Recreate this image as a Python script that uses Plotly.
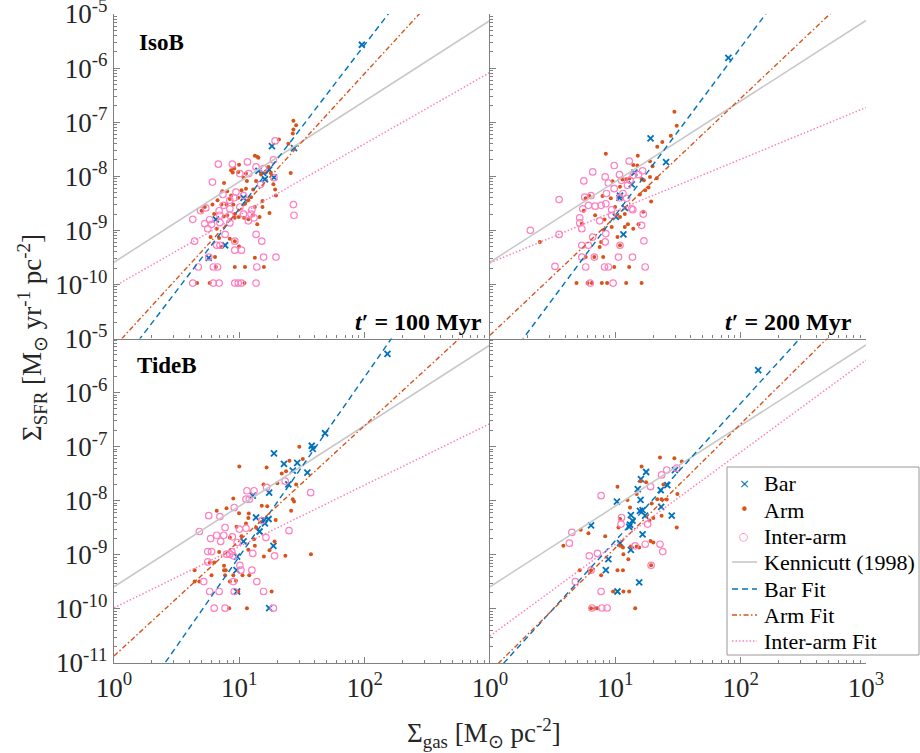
import math
import plotly.graph_objects as go
from plotly.subplots import make_subplots

# ---------------- data ----------------
# Top-left: IsoB, t' = 100 Myr
tl_bar_gas = [95, 18.2, 27.3, 14.2, 15.5, 17.3, 16.0, 18.9, 10.8, 6.5, 7.7, 5.7]
tl_bar_sfr = [2.7e-6, 3.6e-8, 3.3e-8, 1.26e-8, 1.15e-8, 1.33e-8, 8.8e-9, 9.5e-9, 4.0e-9, 1.6e-9, 5.3e-10, 3.1e-10]

tl_arm_gas = [27.0, 28.4, 27.0, 26.7, 24.6, 20.7, 13.9, 13.3, 14.2, 9.95, 9.1, 8.6, 8.85, 9.8, 11.3, 10.8, 11.5, 13.6,
              14.9, 17.1, 17.8, 16.3, 18.7, 19.3, 19.6, 25.7, 7.55, 8.0, 7.3, 8.6, 9.8, 10.4, 11.3, 12.9, 12.4, 11.8,
              11.1, 13.3, 15.3, 17.4, 15.3, 8.95, 8.4, 7.9, 7.2, 6.7, 6.1, 5.0, 6.3, 7.5, 8.0, 9.2, 9.9, 10.9, 11.8,
              12.8, 14.5, 13.9, 9.2, 6.6, 5.9, 6.9, 8.4, 9.2, 9.95, 6.4, 13.3, 15.7, 9.2, 11.1, 6.5, 4.6, 5.8, 11.0,
              7.2, 5.3]
tl_arm_sfr = [1.06e-7, 8.8e-8, 7.3e-8, 6.2e-8, 4.0e-8, 4.8e-8, 2.3e-8, 2.4e-8, 2.2e-8, 1.64e-8, 1.39e-8, 1.29e-8,
              1.17e-8, 1.2e-8, 1.12e-8, 9.4e-9, 8.2e-9, 8.2e-9, 1.09e-8, 1.49e-8, 1.15e-8, 1.2e-8, 7.1e-9, 5.7e-9,
              4.4e-9, 1.15e-8, 7.5e-9, 5.3e-9, 5.3e-9, 4.4e-9, 4.0e-9, 5.5e-9, 5.9e-9, 5.7e-9, 4.1e-9, 3.6e-9,
              3.1e-9, 2.7e-9, 3.5e-9, 2.1e-9, 2.7e-9, 3.0e-9, 3.8e-9, 3.0e-9, 3.0e-9, 3.6e-9, 3.0e-9, 2.3e-9,
              2.0e-9, 1.8e-9, 1.9e-9, 2.0e-9, 1.77e-9, 1.7e-9, 1.6e-9, 1.9e-9, 1.77e-9, 1.3e-9, 1.7e-9, 1.07e-9,
              7.5e-10, 7.2e-10, 7.0e-10, 6.3e-10, 5.0e-10, 3.2e-10, 3.1e-10, 2.1e-10, 2.1e-10, 2.1e-10, 2.1e-10,
              1.06e-10, 1.06e-10, 1.06e-10, 4.9e-10, 2.7e-9]

tl_int_gas = [19.3, 18.7, 6.8, 8.8, 11.6, 13.6, 15.6, 10.1, 11.9, 6.1, 18.9, 14.8, 7.4, 9.4, 9.1, 10.8, 8.4, 7.5,
              5.4, 4.9, 6.9, 8.4, 10.1, 12.6, 7.0, 8.4, 10.8, 12.4, 11.8, 13.1, 5.8, 5.3, 6.0, 7.0, 5.6, 7.7, 8.4,
              4.25, 27.0, 27.3, 13.6, 15.1, 4.4, 6.6, 7.0, 9.2, 10.4, 9.2, 15.6, 19.6, 5.7, 4.7, 6.2, 6.7, 13.8,
              4.25, 6.2, 6.9, 9.2, 9.8, 10.4, 13.6]
tl_int_sfr = [4.5e-8, 2.0e-8, 1.67e-8, 1.67e-8, 1.84e-8, 1.49e-8, 1.39e-8, 1.12e-8, 1.12e-8, 7.8e-9, 9.4e-9,
              7.1e-9, 4.6e-9, 5.1e-9, 4.0e-9, 4.4e-9, 3.6e-9, 2.9e-9, 2.6e-9, 2.3e-9, 2.3e-9, 2.5e-9, 2.7e-9,
              2.4e-9, 1.9e-9, 1.9e-9, 2.0e-9, 2.0e-9, 1.5e-9, 1.7e-9, 1.57e-9, 1.33e-9, 1.29e-9, 1.39e-9, 1.07e-9,
              8.4e-10, 1.37e-9, 1.6e-9, 3.0e-9, 1.9e-9, 8.4e-10, 6.3e-10, 6.3e-10, 5.3e-10, 5.3e-10, 6.3e-10,
              4.3e-10, 4.3e-10, 3.2e-10, 3.2e-10, 3.2e-10, 2.1e-10, 2.1e-10, 2.1e-10, 2.1e-10, 1.06e-10, 1.06e-10,
              1.06e-10, 1.06e-10, 1.06e-10, 1.06e-10, 1.06e-10]

# Top-right: IsoB, t' = 200 Myr
tr_bar_gas = [79.8, 19.1, 25.4, 14.2, 13.5, 10.9, 10.8, 11.9, 10.1, 11.6]
tr_bar_sfr = [1.55e-6, 5.0e-8, 1.82e-8, 1.17e-8, 7.1e-9, 4.4e-9, 4.0e-9, 2.6e-9, 1.77e-9, 8.4e-10]

tr_arm_gas = [29.6, 30.9, 27.7, 23.7, 21.6, 8.4, 15.1, 13.9, 15.0, 18.9, 19.8, 21.4, 18.9, 16.9, 16.2, 12.9, 12.2,
              11.4, 9.5, 10.9, 18.4, 17.3, 15.7, 9.2, 7.9, 6.2, 5.8, 5.6, 6.9, 5.4, 8.2, 10.9, 9.95, 11.9, 12.6,
              15.3, 16.7, 19.3, 13.9, 11.9, 10.4, 8.1, 7.7, 10.9, 9.35, 7.5, 5.8, 6.8, 8.0, 9.8, 12.9, 4.9, 6.0,
              6.5, 7.8, 8.6, 12.2, 16.2, 2.5]
tr_arm_sfr = [1.56e-7, 8.6e-8, 5.6e-8, 4.3e-8, 3.5e-8, 2.6e-8, 2.4e-8, 1.62e-8, 1.58e-8, 1.9e-8, 1.53e-8, 9.2e-9,
              9.7e-9, 8.4e-9, 8.9e-9, 9.1e-9, 8.8e-9, 8.7e-9, 8.1e-9, 6.4e-9, 6.2e-9, 5.5e-9, 4.6e-9, 3.9e-9,
              4.3e-9, 4.3e-9, 3.9e-9, 2.3e-9, 1.9e-9, 1.33e-9, 1.58e-9, 1.77e-9, 2.7e-9, 2.0e-9, 1.29e-9, 1.29e-9,
              2.2e-9, 3.4e-9, 1.07e-9, 1.15e-9, 7.5e-10, 1.03e-9, 6.1e-10, 5.3e-10, 1.15e-9, 4.9e-10, 3.2e-10,
              3.2e-10, 3.2e-10, 2.1e-10, 2.1e-10, 1.06e-10, 1.06e-10, 1.06e-10, 1.06e-10, 1.06e-10, 1.06e-10,
              1.06e-10, 6.1e-10]

tr_int_gas = [3.56, 6.6, 9.8, 5.6, 12.9, 8.3, 10.8, 8.8, 11.2, 13.9, 15.3, 16.5, 13.1, 12.5, 9.8, 8.5, 6.4, 5.7,
              5.5, 6.1, 6.9, 7.7, 8.4, 9.35, 10.9, 12.3, 11.5, 13.5, 5.2, 5.2, 5.4, 7.5, 9.35, 13.8, 16.7, 16.2,
              3.56, 6.6, 8.4, 5.4, 6.1, 8.3, 10.9, 16.9, 10.6, 6.8, 5.4, 13.7, 3.3, 5.8, 8.2, 8.8, 17.3, 6.3, 9.6,
              2.1]
tr_int_sfr = [3.7e-9, 1.2e-8, 1.58e-8, 8.2e-9, 1.9e-8, 9.7e-9, 1.07e-8, 7.5e-9, 8.4e-9, 1.04e-8, 1.07e-8,
              1.26e-8, 8.4e-9, 6.8e-9, 5.9e-9, 4.8e-9, 4.4e-9, 4.1e-9, 2.5e-9, 2.9e-9, 2.8e-9, 2.9e-9, 3.1e-9,
              2.4e-9, 4.0e-9, 3.9e-9, 4.8e-9, 2.5e-9, 1.7e-9, 1.37e-9, 1.07e-9, 1.5e-9, 1.9e-9, 2.4e-9, 2.0e-9,
              1.24e-9, 8.4e-10, 7.5e-10, 8.7e-10, 5.3e-10, 5.3e-10, 6.1e-10, 5.3e-10, 6.4e-10, 3.2e-10, 3.2e-10,
              3.2e-10, 3.2e-10, 2.15e-10, 2.1e-10, 2.1e-10, 2.1e-10, 2.1e-10, 1.06e-10, 1.06e-10, 1.0e-9]

# Bottom-left: TideB, t' = 100 Myr
bl_bar_gas = [152, 18.9, 37.8, 38.5, 48.3, 22.7, 29.0, 26.7, 34.9, 24.6, 12.8, 17.3, 13.6, 15.7, 17.1, 16.0, 14.5,
              10.8, 18.7, 9.6, 9.5, 9.6, 17.3]
bl_bar_sfr = [5.2e-6, 7.5e-8, 1.04e-7, 9.1e-8, 1.77e-7, 4.8e-8, 5.0e-8, 3.6e-8, 3.3e-8, 2.0e-8, 1.24e-8, 1.41e-8,
              4.9e-9, 4.4e-9, 4.6e-9, 3.8e-9, 2.7e-9, 1.77e-9, 1.47e-9, 9.3e-10, 5.2e-10, 2.1e-10, 1.03e-10]

bl_arm_gas = [30.1, 32.1, 25.1, 21.8, 23.6, 16.5, 10.0, 20.1, 15.6, 28.4, 26.7, 27.3, 8.95, 7.9, 6.6, 9.95, 11.9,
              11.8, 16.7, 15.1, 19.5, 13.6, 9.5, 11.3, 25.9, 37.3, 23.3, 15.7, 19.1, 17.4, 13.3, 11.8, 13.1, 10.4,
              8.4, 6.9, 5.8, 6.3, 7.55, 7.55, 7.8, 7.7, 8.95, 10.6, 12.0, 9.4, 8.4, 6.0, 4.4, 4.4, 4.8, 9.8, 18.1,
              8.3, 11.5]
bl_arm_sfr = [1.0e-7, 5.9e-8, 5.5e-8, 3.2e-8, 3.5e-8, 4.1e-8, 4.3e-8, 2.1e-8, 2.0e-8, 2.0e-8, 1.07e-8, 9.7e-9,
              1.1e-8, 7.3e-9, 6.5e-9, 5.9e-9, 5.8e-9, 4.8e-9, 7.9e-9, 8.1e-9, 4.4e-9, 3.2e-9, 3.3e-9, 3.8e-9,
              6.5e-9, 1.03e-9, 9.6e-10, 9.3e-10, 1.77e-9, 1.22e-9, 1.47e-9, 1.24e-9, 1.95e-9, 2.2e-9, 2.1e-9,
              1.13e-9, 7.2e-10, 7.2e-10, 6.3e-10, 5.2e-10, 5.2e-10, 4.2e-10, 4.2e-10, 4.2e-10, 4.2e-10, 3.3e-10,
              3.2e-10, 4.2e-10, 5.2e-10, 3.2e-10, 3.2e-10, 2.1e-10, 2.1e-10, 1.03e-10, 1.03e-10]

bl_int_gas = [11.5, 13.1, 11.3, 12.0, 16.5, 23.2, 37.1, 9.1, 5.7, 7.0, 7.7, 4.8, 10.0, 11.3, 5.9, 6.6, 7.5, 8.8,
              7.1, 9.6, 16.3, 24.9, 5.6, 6.0, 7.9, 8.4, 8.7, 8.95, 12.8, 19.1, 5.6, 10.1, 10.3, 12.6, 5.2, 8.95,
              13.8, 5.8, 6.9, 9.1, 15.6, 6.3, 7.7, 18.7, 15.1]
bl_int_sfr = [1.53e-8, 1.53e-8, 1.07e-8, 1.07e-8, 1.77e-8, 2.3e-8, 1.41e-8, 7.5e-9, 5.3e-9, 5.1e-9, 3.2e-9,
              2.7e-9, 3.0e-9, 3.1e-9, 2.0e-9, 2.3e-9, 2.3e-9, 2.15e-9, 1.77e-9, 1.69e-9, 2.1e-9, 2.8e-9, 1.15e-9,
              1.15e-9, 1.03e-9, 1.03e-9, 1.15e-9, 9.6e-10, 1.06e-9, 9.6e-10, 7.4e-10, 6.4e-10, 5.2e-10, 5.2e-10,
              3.2e-10, 3.2e-10, 3.2e-10, 2.1e-10, 2.1e-10, 2.1e-10, 2.1e-10, 1.03e-10, 1.03e-10, 1.03e-10, 4.3e-9]

# Bottom-right: TideB, t' = 200 Myr
br_bar_gas = [138, 17.6, 16.0, 15.1, 15.9, 10.3, 6.4, 23.0, 26.0, 29.9, 23.2, 28.2, 16.5, 15.7, 17.3, 13.3, 13.1,
              12.9, 13.7, 16.5, 10.9, 13.3, 8.8, 8.4, 15.5, 10.4]
br_bar_sfr = [2.6e-6, 3.4e-8, 2.5e-8, 1.64e-8, 1.04e-8, 9.6e-9, 3.5e-9, 1.57e-8, 1.95e-8, 3.7e-8, 7.7e-9, 5.3e-9,
              6.7e-9, 6.5e-9, 5.3e-9, 5.4e-9, 3.6e-9, 3.3e-9, 4.3e-9, 2.4e-9, 1.64e-9, 1.24e-9, 8.3e-10, 5.2e-10,
              3.1e-10, 2.1e-10]

br_arm_gas = [22.7, 29.6, 33.9, 16.2, 15.9, 17.6, 24.2, 10.4, 12.5, 13.1, 14.8, 19.5, 21.6, 23.4, 25.7, 23.4, 31.3,
              20.1, 30.9, 19.1, 20.1, 18.7, 10.9, 10.6, 5.3, 6.1, 8.3, 3.85, 10.9, 11.5, 13.3, 14.8, 15.5, 11.6,
              12.7, 5.2, 6.4, 7.7, 10.4, 11.5, 19.3, 9.6, 11.6, 12.9, 6.4, 6.9, 7.2, 14.4]
br_arm_sfr = [6.3e-8, 6.1e-8, 5.3e-8, 4.3e-8, 2.3e-8, 2.2e-8, 2.0e-8, 1.82e-8, 1.03e-8, 7.5e-9, 1.33e-8, 8.9e-9,
              1.07e-8, 1.07e-8, 1.06e-8, 5.3e-9, 1.33e-8, 4.8e-9, 3.2e-9, 1.8e-9, 1.69e-9, 4.3e-9, 4.6e-9, 3.2e-9,
              2.9e-9, 2.5e-9, 2.2e-9, 1.47e-9, 1.47e-9, 1.37e-9, 1.43e-9, 1.43e-9, 1.37e-9, 1.03e-9, 8.3e-10,
              5.2e-10, 5.2e-10, 4.2e-10, 5.2e-10, 5.2e-10, 6.4e-10, 2.1e-10, 2.1e-10, 2.1e-10, 1.03e-10, 1.03e-10,
              1.03e-10, 1.03e-10]

br_int_gas = [25.7, 30.9, 23.4, 19.1, 7.7, 11.2, 11.1, 18.1, 4.5, 4.3, 14.4, 17.3, 22.7, 23.9, 7.2, 6.2, 6.4, 4.8,
              19.3, 7.7, 6.5, 7.8, 8.6]
br_int_sfr = [3.7e-8, 4.0e-8, 3.0e-8, 1.82e-8, 1.24e-8, 4.9e-9, 3.7e-9, 3.7e-9, 2.6e-9, 1.64e-9, 1.47e-9, 1.57e-9,
              1.57e-9, 1.15e-9, 1.06e-9, 9.6e-10, 5.2e-10, 3.2e-10, 6.4e-10, 2.1e-10, 1.04e-10, 1.04e-10, 1.04e-10]

# Power-law lines: log10(Sigma_SFR at Sigma_gas = 1) and slope  [TL, TR, BL, BR]
kenn_logA = [-9.59, -9.59, -9.59, -9.59]
kenn_slope = [1.49, 1.49, 1.49, 1.49]
barfit_logA = [-11.63, -11.82, -12.35, -11.28]
barfit_slope = [3.03, 3.10, 3.32, 2.54]
armfit_logA = [-11.16, -10.94, -10.87, -11.16]
armfit_slope = [2.53, 2.19, 2.13, 2.29]
intfit_logA = [-10.04, -9.60, -9.98, -10.50]
intfit_slope = [1.32, 0.957, 1.135, 1.70]

line_gas = [1, 1000]

time_labels = ["100", "200"]
legend_labels = ["Bar", "Arm", "Inter-arm", "Kennicutt (1998)", "Bar Fit", "Arm Fit", "Inter-arm Fit"]

x_ticks_bl = [1, 10, 100]
x_ticks_br = [1, 10, 100, 1000]
y_ticks_top = [1e-10, 1e-9, 1e-8, 1e-7, 1e-6, 1e-5]
y_ticks_bot = [1e-11, 1e-10, 1e-9, 1e-8, 1e-7, 1e-6, 1e-5]

# ---------------- figure ----------------
FONT = "Liberation Serif"
C_BAR = "#0072BD"
C_ARM = "#D95319"
C_INT = "#FF80C0"
C_KEN = "#C8C8C8"
AXC = "#808080"
DASH_BAR = "6px,4px"
DASH_ARM = "5px,2.5px,1.5px,2.5px"
DASH_INT = "1.5px,2px"

fig = make_subplots(rows=2, cols=2, horizontal_spacing=0, vertical_spacing=0)

panels = [
    (1, 1, tl_bar_gas, tl_bar_sfr, tl_arm_gas, tl_arm_sfr, tl_int_gas, tl_int_sfr),
    (1, 2, tr_bar_gas, tr_bar_sfr, tr_arm_gas, tr_arm_sfr, tr_int_gas, tr_int_sfr),
    (2, 1, bl_bar_gas, bl_bar_sfr, bl_arm_gas, bl_arm_sfr, bl_int_gas, bl_int_sfr),
    (2, 2, br_bar_gas, br_bar_sfr, br_arm_gas, br_arm_sfr, br_int_gas, br_int_sfr),
]


def pl(logA, n):
    return [10 ** (logA + n * math.log10(g)) for g in line_gas]


for i, (r, c, bg, bs, ag, as_, ig, is_) in enumerate(panels):
    fig.add_trace(go.Scatter(x=bg, y=bs, mode="markers", name="Bar", showlegend=False,
                             marker=dict(symbol="x-thin-open", size=6, color=C_BAR,
                                         line=dict(color=C_BAR, width=1.8))), row=r, col=c)
    fig.add_trace(go.Scatter(x=ag, y=as_, mode="markers", name="Arm", showlegend=False,
                             marker=dict(symbol="circle", size=4, color=C_ARM, line=dict(width=0))), row=r, col=c)
    fig.add_trace(go.Scatter(x=ig, y=is_, mode="markers", name="Inter-arm", showlegend=False,
                             marker=dict(symbol="circle-open", size=6.5, color=C_INT,
                                         line=dict(color=C_INT, width=1.2))), row=r, col=c)
    fig.add_trace(go.Scatter(x=line_gas, y=pl(kenn_logA[i], kenn_slope[i]), mode="lines",
                             name="Kennicutt (1998)", showlegend=False,
                             line=dict(color=C_KEN, width=1.6)), row=r, col=c)
    fig.add_trace(go.Scatter(x=line_gas, y=pl(barfit_logA[i], barfit_slope[i]), mode="lines", name="Bar Fit",
                             showlegend=False,
                             line=dict(color=C_BAR, width=1.4, dash=DASH_BAR)), row=r, col=c)
    fig.add_trace(go.Scatter(x=line_gas, y=pl(armfit_logA[i], armfit_slope[i]), mode="lines", name="Arm Fit",
                             showlegend=False,
                             line=dict(color=C_ARM, width=1.4, dash=DASH_ARM)), row=r, col=c)
    fig.add_trace(go.Scatter(x=line_gas, y=pl(intfit_logA[i], intfit_slope[i]), mode="lines",
                             name="Inter-arm Fit", showlegend=False,
                             line=dict(color=C_INT, width=1.5, dash=DASH_INT)), row=r, col=c)

minor_x = [k * 10 ** d for d in range(0, 3) for k in range(2, 10)]
minor_y = [k * 10.0 ** d for d in range(-11, -5) for k in range(2, 10)]


def sup_label(v):
    e = int(round(math.log10(v)))
    return "10<sup>%d</sup>" % e


for r in (1, 2):
    for c in (1, 2):
        xt = []
        if r == 2:
            xt = x_ticks_bl if c == 1 else x_ticks_br
        yt = []
        if c == 1:
            yt = y_ticks_top if r == 1 else y_ticks_bot
        fig.update_xaxes(type="log", range=[0, 3], tickmode="array", tickvals=xt if xt else [1, 10, 100, 1000],
                         ticktext=[sup_label(v) for v in xt] if xt else [" "] * 4,
                         showticklabels=bool(xt), automargin=False, ticklabeloverflow="allow",
                         ticks="inside", ticklen=6, tickcolor=AXC, tickwidth=1,
                         minor=dict(ticks="inside", ticklen=3, tickcolor=AXC, tickmode="array", tickvals=minor_x,
                                    showgrid=False),
                         showline=True, linecolor=AXC, linewidth=1.3, showgrid=False, zeroline=False,
                         tickfont=dict(family=FONT, size=27, color="#262626"),
                         row=r, col=c)
        fig.update_yaxes(type="log", range=[-11, -5], tickmode="array",
                         tickvals=yt if yt else y_ticks_bot,
                         ticktext=[sup_label(v) for v in yt] if yt else [" "] * len(y_ticks_bot),
                         showticklabels=bool(yt), automargin=False, ticklabeloverflow="allow",
                         ticks="inside", ticklen=6, tickcolor=AXC, tickwidth=1,
                         minor=dict(ticks="inside", ticklen=3, tickcolor=AXC, tickmode="array", tickvals=minor_y,
                                    showgrid=False),
                         showline=True, linecolor=AXC, linewidth=1.3, showgrid=False, zeroline=False,
                         tickfont=dict(family=FONT, size=27, color="#262626"),
                         row=r, col=c)

# --- pixel helpers for paper coordinates (plot area 114..866 x 14..663) ---
L, R, T, B = 114, 54, 14, 90
W, H = 920, 753
PW, PH = W - L - R, H - T - B


def px(x):
    return (x - L) / PW


def py(y):
    return 1 - (y - T) / PH


annotations = [
    dict(text="<b>IsoB</b>", x=px(137), y=py(42), xref="paper", yref="paper", xanchor="left", yanchor="middle",
         showarrow=False, font=dict(family=FONT, size=23, color="black")),
    dict(text="<b>TideB</b>", x=px(135), y=py(365), xref="paper", yref="paper", xanchor="left", yanchor="middle",
         showarrow=False, font=dict(family=FONT, size=23, color="black")),
    dict(text="<b><i>t</i>′ = %s Myr</b>" % time_labels[0], x=px(484), y=py(322), xref="paper", yref="paper",
         xanchor="right", yanchor="middle", showarrow=False, font=dict(family=FONT, size=24, color="black")),
    dict(text="<b><i>t</i>′ = %s Myr</b>" % time_labels[1], x=px(854), y=py(322), xref="paper", yref="paper",
         xanchor="right", yanchor="middle", showarrow=False, font=dict(family=FONT, size=24, color="black")),
    dict(text="Σ<sub>SFR</sub> [M<sub>⊙</sub> yr<sup>-1</sup> pc<sup>-2</sup>]", x=px(32), y=py(338),
         xref="paper", yref="paper", xanchor="center", yanchor="middle", textangle=-90, showarrow=False,
         font=dict(family=FONT, size=27, color="#262626")),
    dict(text="Σ<sub>gas</sub> [M<sub>⊙</sub> pc<sup>-2</sup>]", x=px(484), y=py(733),
         xref="paper", yref="paper", xanchor="center", yanchor="middle", showarrow=False,
         font=dict(family=FONT, size=27, color="#262626")),
]

# --- legend box (drawn to match the original's compact MATLAB legend) ---
shapes = [dict(type="rect", xref="paper", yref="paper", x0=px(727), x1=px(919), y0=py(655), y1=py(467),
               line=dict(color="#999999", width=1), fillcolor="white", layer="above")]
row_y = [483, 510, 536, 562, 589, 615, 641]
sym_text = ["×", "•", "○"]
sym_color = [C_BAR, C_ARM, C_INT]
sym_size = [13, 15, 11]
for k in range(3):
    annotations.append(dict(text=sym_text[k], x=px(744), y=py(row_y[k]), xref="paper", yref="paper",
                            xanchor="center", yanchor="middle", showarrow=False,
                            font=dict(family="DejaVu Sans", size=sym_size[k], color=sym_color[k])))
line_styles = [(C_KEN, 1.6, "solid"), (C_BAR, 1.4, DASH_BAR), (C_ARM, 1.4, DASH_ARM), (C_INT, 1.5, DASH_INT)]
for k, (col, wid, dsh) in enumerate(line_styles):
    yy = py(row_y[3 + k])
    shapes.append(dict(type="line", xref="paper", yref="paper", x0=px(732), x1=px(757), y0=yy, y1=yy,
                       line=dict(color=col, width=wid, dash=dsh), layer="above"))
for k, lab in enumerate(legend_labels):
    annotations.append(dict(text=lab, x=px(762), y=py(row_y[k]), xref="paper", yref="paper",
                            xanchor="left", yanchor="middle", showarrow=False,
                            font=dict(family=FONT, size=22, color="black")))

fig.update_layout(
    width=W, height=H,
    margin=dict(l=L, r=R, t=T, b=B, autoexpand=False),
    paper_bgcolor="white", plot_bgcolor="white",
    font=dict(family=FONT, color="black"),
    annotations=annotations,
    shapes=shapes,
    showlegend=False,
)

fig.write_html("out.html")
